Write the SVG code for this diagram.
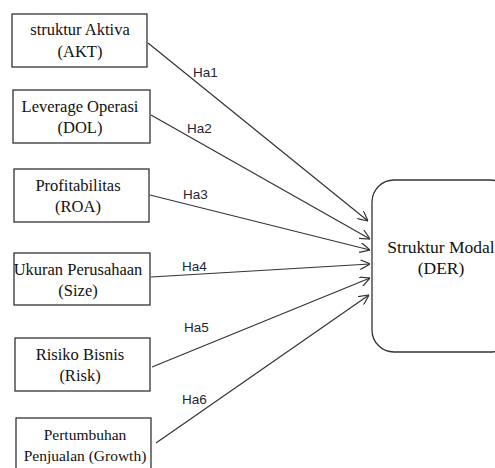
<svg xmlns="http://www.w3.org/2000/svg" width="495" height="468" viewBox="0 0 495 468">
<defs>
<marker id="arr" viewBox="0 0 10 10" refX="10" refY="5" markerWidth="10" markerHeight="10" markerUnits="userSpaceOnUse" orient="auto">
<path d="M0,0 L10,5 L0,10" fill="none" stroke="#333" stroke-width="1.2"/>
</marker>
<style>
.box{fill:#fff;stroke:#333;stroke-width:1.3}
.t{font-family:"Liberation Serif",serif;font-size:16.5px;fill:#111;text-anchor:middle}
.l{font-family:"Liberation Sans",sans-serif;font-size:13.5px;fill:#1c2636}
.c{stroke:#333;stroke-width:1.2;fill:none;marker-end:url(#arr)}
</style>
</defs>
<rect width="495" height="468" fill="#fff"/>
<g id="n1"><rect class="box" x="12" y="14" width="135" height="53"/><text class="t" x="80" y="35">struktur Aktiva</text><text class="t" x="80" y="57">(AKT)</text></g>
<g id="n2"><rect class="box" x="13" y="90" width="137" height="53"/><text class="t" x="80" y="112">Leverage Operasi</text><text class="t" x="80" y="133">(DOL)</text></g>
<g id="n3"><rect class="box" x="14" y="169" width="135" height="53"/><text class="t" x="78" y="191">Profitabilitas</text><text class="t" x="78" y="212">(ROA)</text></g>
<g id="n4"><rect class="box" x="14" y="253" width="136" height="52"/><text class="t" x="78" y="275">Ukuran Perusahaan</text><text class="t" x="78" y="296">(Size)</text></g>
<g id="n5"><rect class="box" x="15" y="338" width="135" height="53"/><text class="t" x="80" y="360">Risiko Bisnis</text><text class="t" x="80" y="381">(Risk)</text></g>
<g id="n6"><rect class="box" x="16" y="418" width="135" height="53"/><text class="t" x="85" y="440" style="font-size:15.5px">Pertumbuhan</text><text class="t" x="85" y="461" style="font-size:15.5px">Penjualan (Growth)</text></g>
<g id="n7"><rect class="box" x="372" y="180" width="140" height="172" rx="22" ry="22"/><text class="t" x="441" y="253" style="font-size:17.5px">Struktur Modal</text><text class="t" x="441" y="274" style="font-size:17.5px">(DER)</text></g>
<g id="connectors">
<line class="c" x1="148" y1="43" x2="368" y2="221"/>
<line class="c" x1="151" y1="115" x2="370" y2="239"/>
<line class="c" x1="150" y1="195" x2="370" y2="250"/>
<line class="c" x1="151" y1="277" x2="370" y2="264"/>
<line class="c" x1="152" y1="367" x2="370" y2="278"/>
<line class="c" x1="156" y1="443" x2="369" y2="295"/>
</g>
<g id="labels">
<text class="l" x="193" y="77">Ha1</text>
<text class="l" x="187" y="133">Ha2</text>
<text class="l" x="183" y="199">Ha3</text>
<text class="l" x="182" y="271">Ha4</text>
<text class="l" x="184" y="332">Ha5</text>
<text class="l" x="182" y="404">Ha6</text>
</g>
</svg>
